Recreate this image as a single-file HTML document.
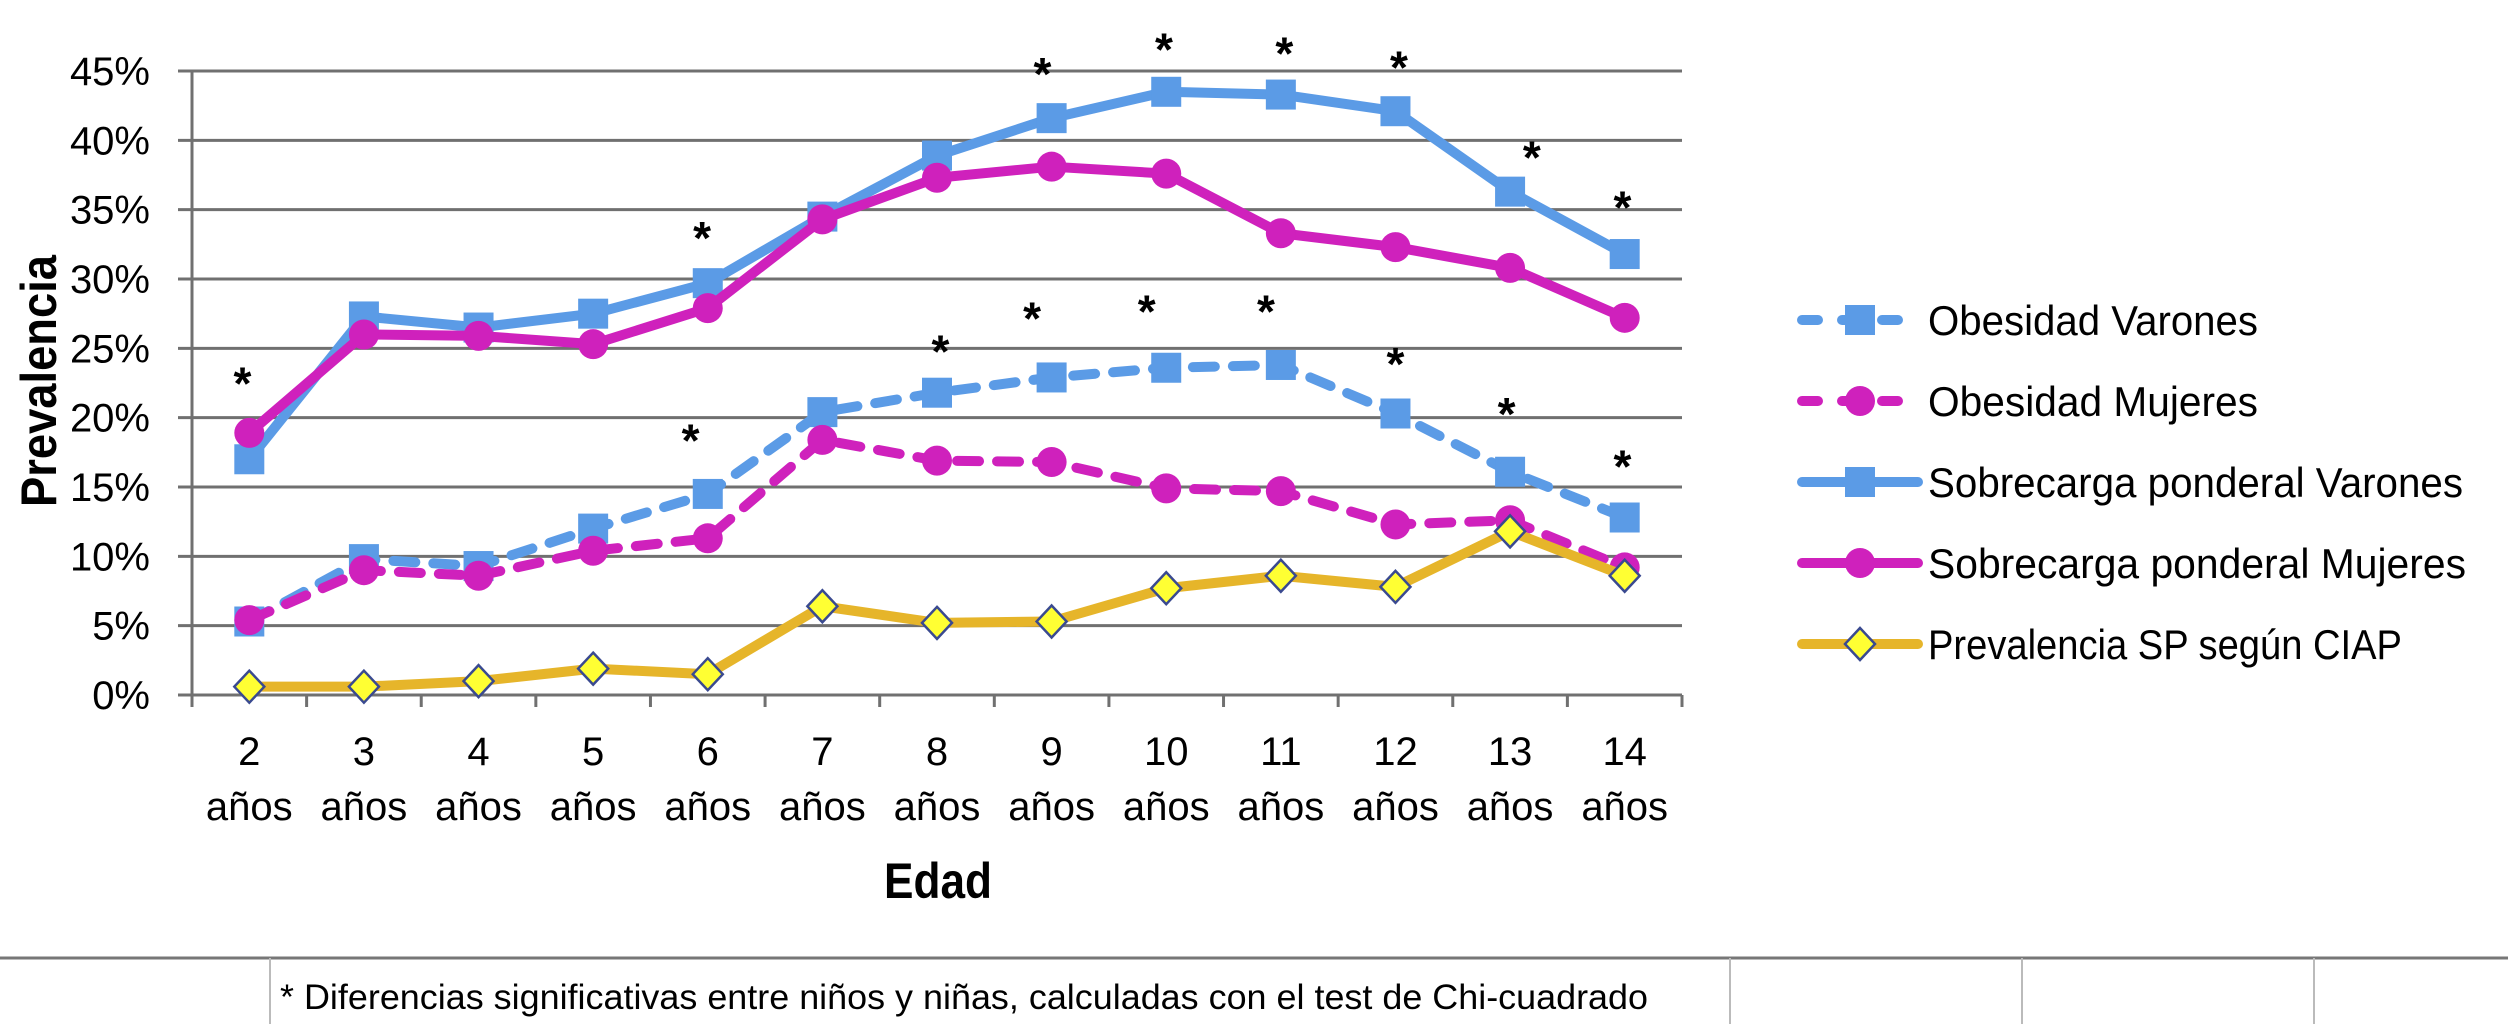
<!DOCTYPE html>
<html><head><meta charset="utf-8"><style>
html,body{margin:0;padding:0;background:#fff;width:2508px;height:1024px;overflow:hidden}
svg{display:block;font-family:"Liberation Sans",sans-serif}
</style></head><body>
<svg id="chart" width="2508" height="1024" viewBox="0 0 2508 1024" xmlns="http://www.w3.org/2000/svg">
<g id="grid"></g>
<g id="axes"></g>
<g id="series"></g>
<g id="stars"></g>
<text transform="translate(56,381) rotate(-90)" text-anchor="middle" font-size="50" font-weight="bold" fill="#000" textLength="252" lengthAdjust="spacingAndGlyphs">Prevalencia</text>
<text x="938" y="898" text-anchor="middle" font-size="50" font-weight="bold" fill="#000" textLength="108" lengthAdjust="spacingAndGlyphs">Edad</text>
<g id="legend"></g>
<g>
<line x1="0" y1="958" x2="2508" y2="958" stroke="#777" stroke-width="3"/>
<line x1="270" y1="958" x2="270" y2="1024" stroke="#bbb" stroke-width="2"/>
<line x1="1730" y1="958" x2="1730" y2="1024" stroke="#bbb" stroke-width="2"/>
<line x1="2022" y1="958" x2="2022" y2="1024" stroke="#bbb" stroke-width="2"/>
<line x1="2314" y1="958" x2="2314" y2="1024" stroke="#bbb" stroke-width="2"/>
<text x="280" y="1009" font-size="35" textLength="1368" lengthAdjust="spacingAndGlyphs" fill="#000">* Diferencias significativas entre niños y niñas, calculadas con el test de Chi-cuadrado</text>
</g>
</svg>
<script>
const categories = ["2","3","4","5","6","7","8","9","10","11","12","13","14"];
const yTicks = [0,5,10,15,20,25,30,35,40,45];
const obesidadVarones = [5.3,9.8,9.3,12.0,14.5,20.4,21.8,22.9,23.6,23.8,20.3,16.1,12.8];
const obesidadMujeres = [5.4,9.0,8.6,10.4,11.3,18.4,16.9,16.8,14.9,14.7,12.3,12.6,9.2];
const sobrecargaVarones = [17.0,27.3,26.5,27.5,29.7,34.5,38.9,41.6,43.5,43.3,42.1,36.3,31.8];
const sobrecargaMujeres = [18.9,26.0,25.9,25.3,27.9,34.3,37.3,38.1,37.6,33.3,32.3,30.8,27.2];
const prevalenciaCIAP = [0.6,0.6,1.0,1.9,1.5,6.4,5.2,5.3,7.7,8.6,7.8,11.8,8.6];
const starsUpperCat = [0,4,7,8,9,10,11,12];
const starsUpperVal = [22.9,33.4,45.2,47.0,46.7,45.7,39.2,35.6];
const starsUpperShift = [-0.06,-0.05,-0.08,-0.02,0.03,0.03,0.19,-0.02];
const starsLowerCat = [4,6,7,8,9,10,11,12];
const starsLowerVal = [18.8,25.2,27.6,28.1,28.1,24.3,20.7,16.9];
const starsLowerShift = [-0.15,0.03,-0.17,-0.17,-0.13,0,-0.03,-0.02];

const NS="http://www.w3.org/2000/svg";
const L=192,R=1682,T=71,B=695,YMAX=45;
const bw=(R-L)/categories.length;
const xS=i=>L+bw*(i+0.5);
const yS=v=>B-(v/YMAX)*(B-T);
function mk(tag,attrs,parent){const e=document.createElementNS(NS,tag);for(const k in attrs)e.setAttribute(k,attrs[k]);parent.appendChild(e);return e;}
const grid=document.getElementById('grid'),axes=document.getElementById('axes'),ser=document.getElementById('series'),stars=document.getElementById('stars'),leg=document.getElementById('legend');

yTicks.forEach(t=>{
  const y=yS(t);
  if(t>0){const g=mk('line',{x1:178,y1:y,x2:R,y2:y,stroke:'#707070','stroke-width':3},grid);
  
  }
  const tx=mk('text',{x:150,y:y+14,'text-anchor':'end','font-size':40,fill:'#000'},axes);
  
  
  tx.textContent=t+'%';
});
mk('line',{x1:178,y1:B,x2:R,y2:B,stroke:'#707070','stroke-width':3},axes);
mk('line',{x1:L,y1:T,x2:L,y2:B+12,stroke:'#707070','stroke-width':3},axes);
for(let i=0;i<=categories.length;i++){const x=L+bw*i;mk('line',{x1:x,y1:B,x2:x,y2:B+12,stroke:'#707070','stroke-width':3},axes);}
categories.forEach((c,i)=>{
  const a=mk('text',{x:xS(i),y:765,'text-anchor':'middle','font-size':40,fill:'#000'},axes);
  
  
  a.textContent=c;
  const b=mk('text',{x:xS(i),y:820,'text-anchor':'middle','font-size':40,fill:'#000'},axes);
  
  
  b.textContent='años';
});

const BLUE='#5b9be6',MAG='#cf21bc',GOLD='#e6b52a';
function marker(type,x,y,color,parent){
  if(type==='square')return mk('rect',{x:x-15,y:y-15,width:30,height:30,fill:color},parent);
  if(type==='circle')return mk('circle',{cx:x,cy:y,r:15,fill:color},parent);
  return mk('polygon',{points:`${x},${y-16} ${x+15},${y} ${x},${y+16} ${x-15},${y}`,fill:'#ffff33',stroke:'#3a4a90','stroke-width':2.5},parent);
}
function drawSeries(name,data,color,dash,type){
  const g=mk('g',{},ser);
  
  
  const pts=data.map((v,i)=>xS(i)+','+yS(v)).join(' ');
  const p={points:pts,fill:'none',stroke:color,'stroke-width':10,'stroke-linejoin':'round','stroke-linecap':'round'};
  if(dash)p['stroke-dasharray']='22 18';
  mk('polyline',p,g);
  data.forEach((v,i)=>{const m=marker(type,xS(i),yS(v),color,g);
    
    });
}
drawSeries('obesidad-varones',obesidadVarones,BLUE,true,'square');
drawSeries('obesidad-mujeres',obesidadMujeres,MAG,true,'circle');
drawSeries('sobrecarga-varones',sobrecargaVarones,BLUE,false,'square');
drawSeries('sobrecarga-mujeres',sobrecargaMujeres,MAG,false,'circle');
drawSeries('prevalencia-ciap',prevalenciaCIAP,GOLD,false,'diamond');

function star(ci,v,sh){const s=mk('text',{x:xS(ci)+sh*bw,y:yS(v)+22,'text-anchor':'middle','font-size':46,'font-weight':'bold',fill:'#000'},stars);
  
  
  s.textContent='*';}
starsUpperCat.forEach((c,i)=>star(c,starsUpperVal[i],starsUpperShift[i]));
starsLowerCat.forEach((c,i)=>star(c,starsLowerVal[i],starsLowerShift[i]));

const legendItems=[['Obesidad Varones',BLUE,true,'square',320,330],['Obesidad Mujeres',MAG,true,'circle',401,330],['Sobrecarga ponderal Varones',BLUE,false,'square',482,535],['Sobrecarga ponderal Mujeres',MAG,false,'circle',563,538],['Prevalencia SP según CIAP',GOLD,false,'diamond',644,474]];
legendItems.forEach(it=>{
  const g=mk('g',{},leg);
  
  
  const y=it[4];
  const p={x1:1802,y1:y,x2:1918,y2:y,stroke:it[1],'stroke-width':10,'stroke-linecap':'round'};
  if(it[2])p['stroke-dasharray']='16 24';
  mk('line',p,g);
  marker(it[3],1860,y,it[1],g);
  const t=mk('text',{x:1928,y:y+15,'font-size':42,fill:'#000',textLength:it[5],lengthAdjust:'spacingAndGlyphs'},g);
  t.textContent=it[0];
});
</script>
</body></html>
